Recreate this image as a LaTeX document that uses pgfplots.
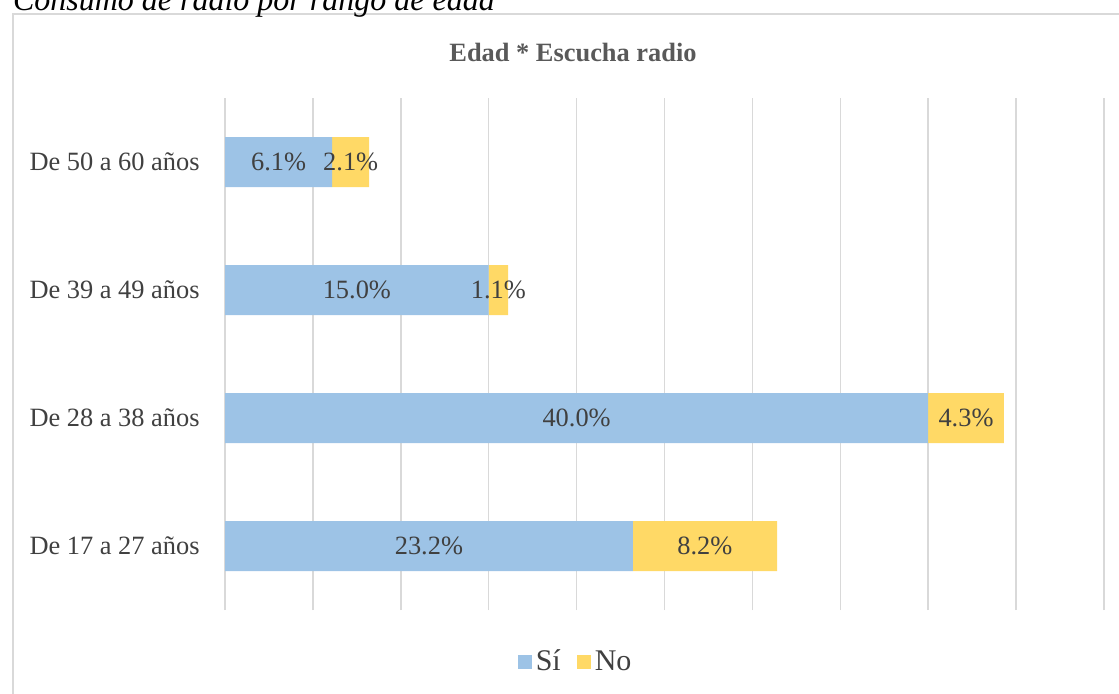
\documentclass[border=0pt]{standalone}
\usepackage{pgfplots}
\pgfplotsset{compat=1.18}
\usepackage{fontspec}
\setmainfont{Liberation Serif}
\definecolor{si}{HTML}{9DC3E6}
\definecolor{no}{HTML}{FFD966}
\definecolor{txt}{HTML}{404040}
\definecolor{ttl}{HTML}{595959}
\definecolor{grd}{HTML}{D9D9D9}
\pgfplotsset{
  base/.style={
    scale only axis,
    width=439.5pt, height=256pt,
    at={(112.5pt,-305pt)}, anchor=south west,
    xmin=0, xmax=50, ymin=-0.5, ymax=3.5,
  }
}
\begin{document}
\begin{tikzpicture}
\clip (0,0) rectangle (559.5pt,-346.5pt);
% frame and caption
\draw[grd, line width=0.75pt] (6.4pt,-7pt) rectangle (600pt,-400pt);
\node[anchor=base west, inner sep=0pt, font=\fontsize{16}{18}\selectfont\itshape]
  at (6.3pt,-5pt) {Consumo de radio por rango de edad};
\node[font=\fontsize{13.2}{15}\selectfont\bfseries, text=ttl] at (286.5pt,-26pt) {Edad * Escucha radio};
\begin{axis}[
  base,
  xbar stacked,
  bar width=25pt,
  xtick={0,5,...,50},
  xticklabels={},
  xmajorgrids=true,
  grid style={grd, line width=0.75pt},
  ytick={0,1,2,3},
  yticklabels={De 17 a 27 años, De 28 a 38 años, De 39 a 49 años, De 50 a 60 años},
  yticklabel style={anchor=east, inner sep=0pt, xshift=-12.5pt, text=txt,
    font=\fontsize{13.2}{15}\selectfont},
  axis line style={draw=none},
  major tick length=0pt,
  legend columns=2,
  legend style={at={(0.40,-0.1016)}, anchor=center, draw=none, fill=none,
    font=\fontsize{15}{17}\selectfont, text=txt,
    /tikz/every even column/.append style={column sep=6pt}},
  legend image code/.code={\fill[#1] (0pt,-3.3pt) rectangle (7pt,3.7pt);},
]
\addplot[fill=si, draw=none] coordinates {(23.2,0) (40.0,1) (15.0,2) (6.1,3)};
\addlegendentry{Sí}
\addplot[fill=no, draw=none] coordinates {(8.2,0) (4.3,1) (1.1,2) (2.1,3)};
\addlegendentry{No}
\end{axis}
\begin{axis}[
  base,
  hide axis,
  nodes near coords,
  point meta=explicit symbolic,
  nodes near coords align={center},
  every node near coord/.append style={anchor=center, text=txt, inner sep=0pt,
    font=\fontsize{13.2}{15}\selectfont},
]
\addplot[draw=none, mark=none] coordinates {
  (11.6,0) [23.2\%] (20.0,1) [40.0\%] (7.5,2) [15.0\%] (3.05,3) [6.1\%]
  (27.3,0) [8.2\%] (42.15,1) [4.3\%] (15.55,2) [1.1\%] (7.15,3) [2.1\%]
};
\end{axis}
\end{tikzpicture}
\end{document}
